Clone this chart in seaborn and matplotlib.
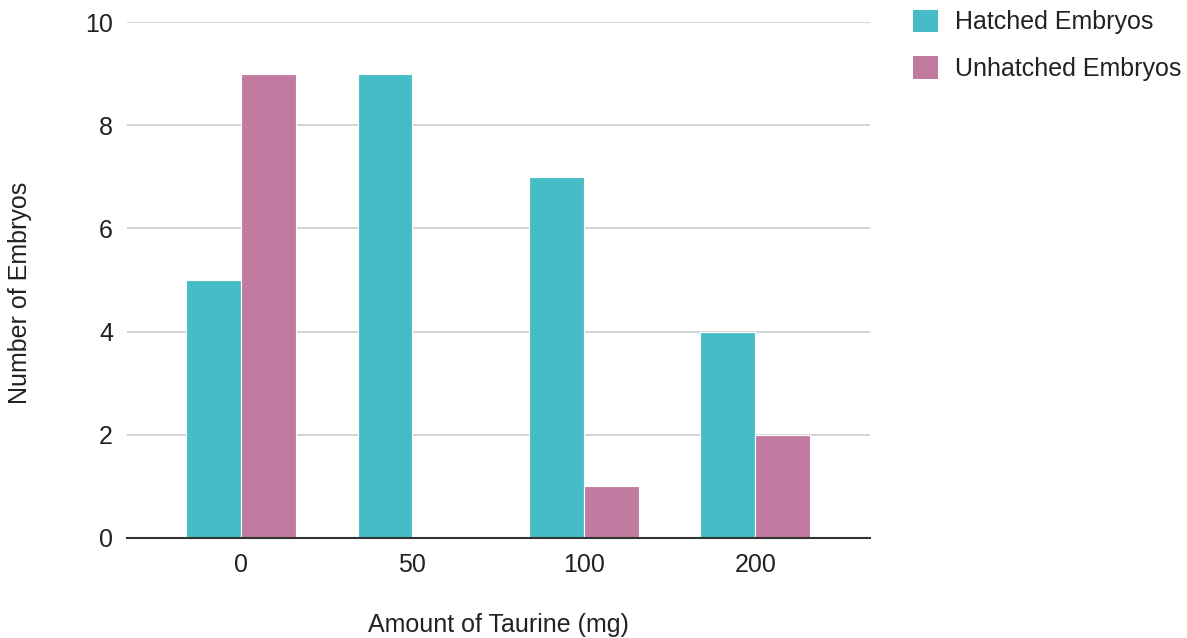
import pandas as pd
import matplotlib
matplotlib.use("Agg")
import matplotlib.pyplot as plt
import seaborn as sns
from matplotlib.patches import Patch

# Dados
taurina = ["0", "50", "100", "200"]
eclodidos = [5, 9, 7, 4]
nao_eclodidos = [9, 0, 1, 2]
series = ["Hatched Embryos", "Unhatched Embryos"]
cores = ["#46BDC6", "#C27BA0"]

df = pd.DataFrame({
    "taurina": taurina * 2,
    "valor": eclodidos + nao_eclodidos,
    "serie": [series[0]] * 4 + [series[1]] * 4,
})

sns.set_theme(style="white")
plt.rcParams["font.family"] = ["Liberation Sans", "DejaVu Sans"]

fig = plt.figure(figsize=(11.87, 6.38), dpi=100)
ax = fig.add_axes([0.107, 0.157, 0.626, 0.8085])

sns.barplot(data=df, x="taurina", y="valor", hue="serie", palette=cores,
            saturation=1, width=0.64, edgecolor="white", linewidth=0.8,
            ax=ax, legend=False)

ax.set_ylim(0, 10)
ax.set_yticks([0, 2, 4, 6, 8, 10])
ax.set_xlim(-0.665, 3.67)
ax.yaxis.grid(True, color="#cccccc", linewidth=1.2)
ax.set_axisbelow(True)
sns.despine(ax=ax, left=True, top=True, right=True)
ax.spines["bottom"].set_color("#333333")
ax.spines["bottom"].set_linewidth(1.5)
ax.tick_params(axis="both", length=0, labelsize=18, colors="#222222")
ax.tick_params(axis="x", pad=11)
ax.tick_params(axis="y", pad=10)

ax.set_xlabel("Amount of Taurine (mg)", fontsize=18, color="#222222")
ax.set_ylabel("Number of Embryos", fontsize=18, color="#222222")
ax.xaxis.set_label_coords(0.5, -0.145)
ax.yaxis.set_label_coords(-0.128, 0.475)

handles = [Patch(facecolor=c, edgecolor="none") for c in cores]
fig.legend(handles, series, loc="upper left", bbox_to_anchor=(0.750, 1.02),
           frameon=False, fontsize=18, handlelength=1.0, handleheight=1.0,
           handletextpad=0.7, labelspacing=0.87, labelcolor="#222222")

fig.savefig("out.png", dpi=100)
